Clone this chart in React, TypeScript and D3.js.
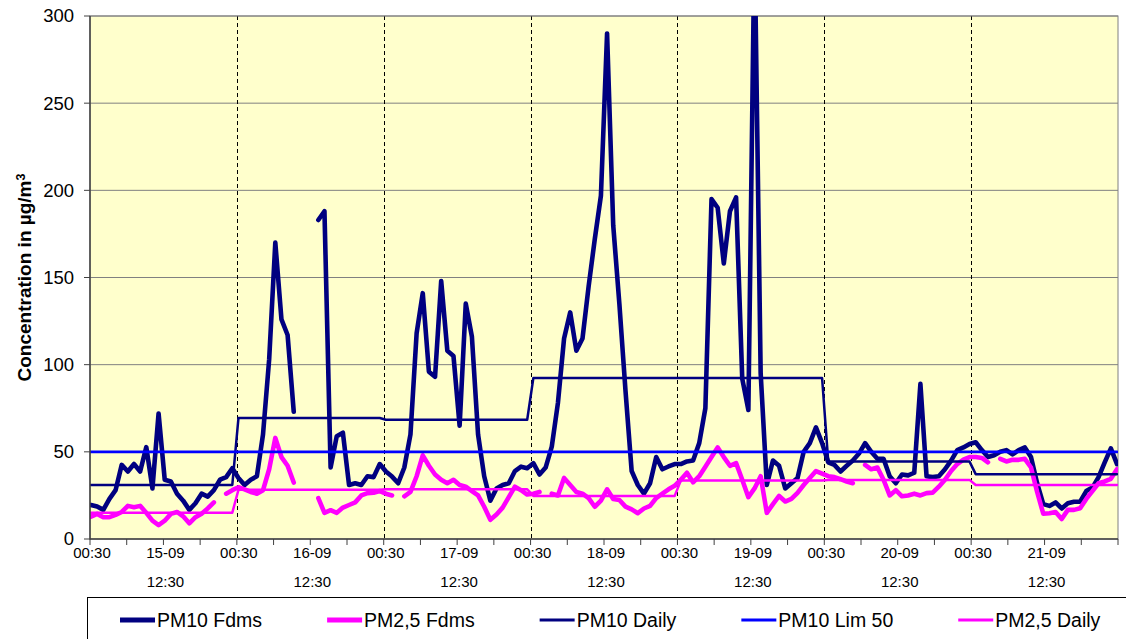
import React, { useEffect, useRef } from "react";
import * as d3 from "d3";

// hourly readings, 15-09 00:30 .. 22-09 00:30 (null = no data)
const pm10Fdms: (number | null)[] = [
  19.5, 18.6, 16.7, 23, 28, 42.5, 38.7, 43, 38.7, 52.7, 29, 72, 34, 33, 26, 22, 16.7, 20.5, 26, 24.3, 28, 34, 35.5, 40.6,
  35, 31, 34, 36, 60, 103, 170, 126, 117, 73, null, null, null, 183, 188, 41, 59, 61, 31, 32, 31, 36, 35.5, 43,
  38.7, 35.8, 32, 41, 60, 118, 141, 96, 93, 148, 108, 105, 65, 135, 116, 60, 36, 22, 29, 31, 32, 39, 41.5, 40.6,
  43.5, 37, 41, 53, 78, 115, 130, 108, 115, 145, 172, 197, 290, 180, 135, 85, 39, 31, 26, 32, 47, 40, 41.6, 43,
  43, 44.5, 45, 55, 75, 195, 190, 158, 188, 196, 92, 74, 345, 95, 31, 45, 42, 29, 32, 35, 50, 55, 64, 55,
  44, 42.5, 38.7, 42, 45, 49, 55, 50, 46, 46, 36, 32, 37, 36.5, 38, 89, 36, 35.5, 36, 40, 45, 51, 52.5, 54.5,
  55.5, 51, 47, 48, 50, 51, 48.5, 51, 52.5, 47, 32, 20, 19, 21, 17.5, 20.5, 21.4, 21.4, 27.5, 29.5, 35.5, 44, 52, 43,
];

const pm25Fdms: (number | null)[] = [
  12.8, 14.4, 12.5, 12.5, 13.8, 15.5, 19, 18.2, 19, 15, 10.5, 8, 10.5, 14.4, 15.5, 13, 9, 12.5, 14.5, 17.5, 21, null, 26, 28,
  29.7, 28.5, 27, 26, 28, 40, 58, 47, 42, 32.4, null, null, null, 23.4, 15, 16.5, 15, 18, 19.5, 21, 25, 26.3, 26.5, 27.5,
  26, 25, null, 24.5, 27, 36, 48, 42, 37, 34, 32, 34, 31, 30, 27.5, 25, 18.5, 11, 14, 18, 24, 30, 28, 25.5,
  26, 27, null, 26, 25, 35, 31, 27, 26, 23.4, 18.5, 22, 28.5, 23, 22.4, 18.6, 17, 14.8, 17.5, 19, 23.5, 26, 28.5, 30.5,
  34, 38, 32.5, 36, 41.5, 47, 52.5, 47, 42, 43.5, 34, 24, 29, 36, 15, 20, 24.7, 21.5, 23, 26.5, 31, 35, 39, 37.5,
  36, 35.5, 34.3, 33, 32, null, 42.5, 40, 41, 34, 25, 28, 24.5, 25, 26, 25, 26.3, 26.6, 30, 34, 39, 43, 45.5, 47,
  47, 46.5, 44, null, 46, 44.5, 45.4, 45.4, 46, 41, 27, 14.5, 14.8, 15.5, 11.5, 16.7, 16.7, 17.6, 23, 27.5, 32, 33, 34.5, 40,
];

const days = ["15-09", "16-09", "17-09", "18-09", "19-09", "20-09", "21-09"];
const pm10Daily = [31, 69.4, 68.4, 92.3, 92.3, 44.4, 37.2];
const pm25Daily = [15.1, 28.2, 28.5, 24.7, 33.5, 33.9, 31];
const pm10Limit = 50;
const yTicks = [0, 50, 100, 150, 200, 250, 300];

const NAVY = "#000080";
const MAGENTA = "#FF00FF";
const BLUE = "#0000FF";

export default function App() {
  const svgRef = useRef<SVGSVGElement | null>(null);

  useEffect(() => {
    if (!svgRef.current) return;
    const svg = d3.select(svgRef.current);
    svg.selectAll("*").remove();

    const left = 90, right = 1118, top = 16, bottom = 539;
    const n = pm10Fdms.length;
    const x = d3.scaleLinear().domain([0, n - 1]).range([91, 1117]);
    const t = d3.scaleLinear().domain([0, 168]).range([left, right]);
    const y = d3.scaleLinear().domain([0, 300]).range([bottom, top]);

    svg.append("rect").attr("width", 1126).attr("height", 639).attr("fill", "#fff");

    svg.append("rect")
      .attr("x", left).attr("y", top)
      .attr("width", right - left).attr("height", bottom - top)
      .attr("fill", "#FFFFCC");

    // horizontal grid
    svg.append("g").selectAll("line")
      .data(yTicks.filter((v) => v > 0))
      .join("line")
      .attr("x1", left).attr("x2", right)
      .attr("y1", (d) => y(d)).attr("y2", (d) => y(d))
      .attr("stroke", "#808080").attr("stroke-width", 1);

    // day separators
    svg.append("g").selectAll("line")
      .data(d3.range(1, 7))
      .join("line")
      .attr("x1", (d) => Math.round(t(d * 24)) + 0.5).attr("x2", (d) => Math.round(t(d * 24)) + 0.5)
      .attr("y1", top).attr("y2", bottom)
      .attr("stroke", "#000").attr("stroke-width", 1)
      .attr("stroke-dasharray", "4,3");

    svg.append("rect")
      .attr("x", left).attr("y", top)
      .attr("width", right - left).attr("height", bottom - top)
      .attr("fill", "none").attr("stroke", "#808080");

    svg.append("clipPath").attr("id", "plotClip")
      .append("rect")
      .attr("x", left).attr("y", top)
      .attr("width", right - left).attr("height", bottom - top);

    const line = d3.line<number | null>()
      .defined((d) => d != null)
      .x((_, i) => x(i))
      .y((d) => y(d as number));

    const hours = d3.range(n);
    const series = [
      { data: pm10Fdms, color: NAVY, width: 4.6 },
      { data: pm25Fdms, color: MAGENTA, width: 4.6 },
      { data: hours.map((i) => pm10Daily[Math.floor(i / 24)]), color: NAVY, width: 2.5 },
      { data: hours.map(() => pm10Limit), color: BLUE, width: 2.8 },
      { data: hours.map((i) => pm25Daily[Math.floor(i / 24)]), color: MAGENTA, width: 2.5 },
    ];

    const plot = svg.append("g").attr("clip-path", "url(#plotClip)");
    series.forEach((s) => {
      plot.append("path")
        .attr("d", line(s.data))
        .attr("fill", "none")
        .attr("stroke", s.color)
        .attr("stroke-width", s.width)
        .attr("stroke-linejoin", "round")
        .attr("stroke-linecap", "round");
    });

    // axes
    const axisColor = "#404040";
    const font = "'Liberation Sans', Arial, sans-serif";
    svg.append("line")
      .attr("x1", left).attr("x2", left).attr("y1", top).attr("y2", bottom + 0.5)
      .attr("stroke", axisColor).attr("stroke-width", 1.5);
    svg.append("line")
      .attr("x1", left).attr("x2", right).attr("y1", bottom).attr("y2", bottom)
      .attr("stroke", axisColor).attr("stroke-width", 1.5);

    const yg = svg.append("g");
    yg.selectAll("line").data(yTicks).join("line")
      .attr("x1", left - 6).attr("x2", left)
      .attr("y1", (d) => y(d)).attr("y2", (d) => y(d))
      .attr("stroke", axisColor);
    yg.selectAll("text").data(yTicks).join("text")
      .attr("x", left - 16).attr("y", (d) => y(d))
      .attr("dy", "0.35em")
      .attr("text-anchor", "end")
      .attr("font-family", font).attr("font-size", 18.5)
      .text((d) => d);

    const title = svg.append("text")
      .attr("transform", `translate(31, ${(top + bottom) / 2}) rotate(-90)`)
      .attr("text-anchor", "middle")
      .attr("font-family", font).attr("font-size", 19).attr("font-weight", "bold");
    title.append("tspan").text("Concentration in µg/m");
    title.append("tspan").attr("dy", "-0.5em").attr("font-size", 12.5).text("3");

    const xg = svg.append("g");
    xg.selectAll("line").data(d3.range(0, 169, 6)).join("line")
      .attr("x1", (d) => t(d)).attr("x2", (d) => t(d))
      .attr("y1", bottom).attr("y2", bottom + 6)
      .attr("stroke", axisColor);
    const labelHours = d3.range(0, 168, 12);
    const xl = xg.selectAll("text").data(labelHours).join("text")
      .attr("text-anchor", "middle")
      .attr("font-family", font).attr("font-size", 15);
    xl.each(function (h) {
      const el = d3.select(this);
      const d = Math.floor(h / 24);
      if (h % 24 === 0) {
        el.append("tspan").attr("x", t(h) + 2).attr("y", 558).text("00:30");
      } else {
        el.append("tspan").attr("x", t(h) + 2).attr("y", 558).text(days[d]);
        el.append("tspan").attr("x", t(h) + 2).attr("y", 587).text("12:30");
      }
    });

    // legend
    const legend = svg.append("g");
    legend.append("rect")
      .attr("x", 87.5).attr("y", 597.5).attr("width", 1050).attr("height", 60)
      .attr("fill", "#fff").attr("stroke", "#000");
    const items = [
      { label: "PM10 Fdms", color: NAVY, width: 5 },
      { label: "PM2,5 Fdms", color: MAGENTA, width: 5 },
      { label: "PM10 Daily", color: NAVY, width: 3 },
      { label: "PM10 Lim 50", color: BLUE, width: 3 },
      { label: "PM2,5 Daily", color: MAGENTA, width: 3 },
    ];
    let lx = 120;
    items.forEach((it) => {
      legend.append("line")
        .attr("x1", lx).attr("x2", lx + 35)
        .attr("y1", 620).attr("y2", 620)
        .attr("stroke", it.color).attr("stroke-width", it.width);
      const txt = legend.append("text")
        .attr("x", lx + 37).attr("y", 620).attr("dy", "0.35em")
        .attr("font-family", font).attr("font-size", 19.5)
        .text(it.label);
      const w = (txt.node() as SVGTextElement).getComputedTextLength();
      lx += 37 + w + 65;
    });
  }, []);

  return (
    <svg
      ref={svgRef}
      width={1126}
      height={639}
      style={{ position: "absolute", left: 0, top: 0, display: "block" }}
    />
  );
}
